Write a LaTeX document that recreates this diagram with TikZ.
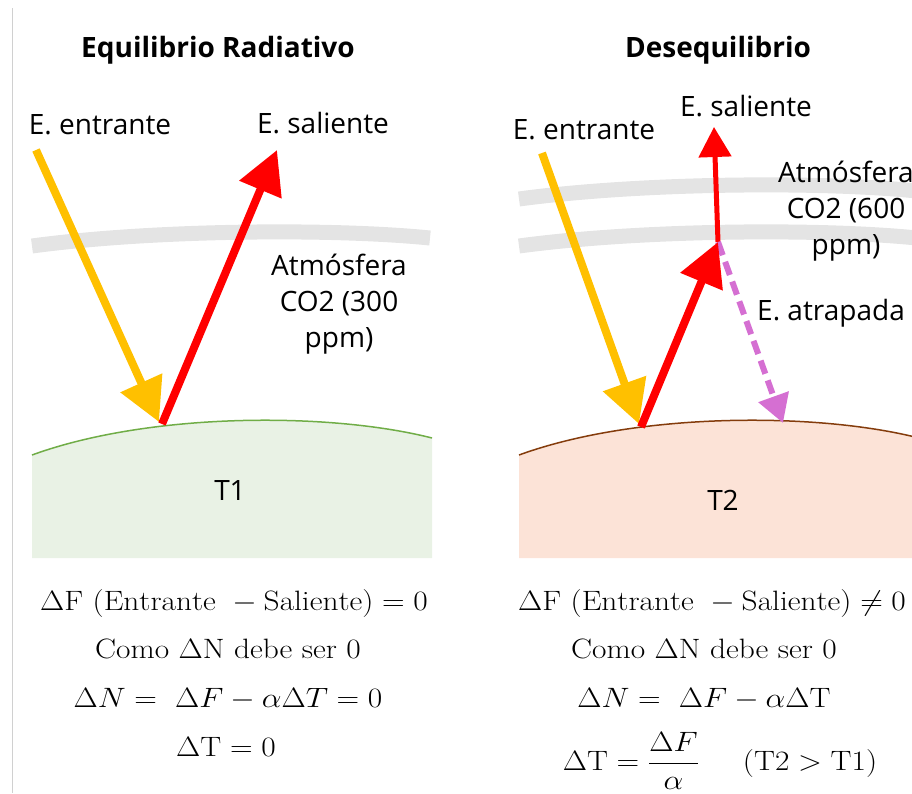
\RequirePackage{fix-cm}
\documentclass[tikz,border=0pt]{standalone}
\usepackage{amsmath}
\usepackage{graphicx}
\usepackage{fontspec}
\newfontfamily\sansf{Open Sans}
\usetikzlibrary{arrows.meta}
\definecolor{yel}{HTML}{FFC000}
\definecolor{redar}{HTML}{FF0000}
\definecolor{mag}{HTML}{D56FD2}
\definecolor{atm}{HTML}{E4E4E4}
\definecolor{grfill}{HTML}{E9F2E5}
\definecolor{grline}{HTML}{70AD47}
\definecolor{rdfill}{HTML}{FCE3D7}
\definecolor{rdline}{HTML}{843C0C}
\definecolor{framegray}{HTML}{D0D0D0}
\newcommand{\wide}[1]{\scalebox{1.12}[1]{#1}}
\begin{document}
\begin{tikzpicture}[x=1pt,y=-1pt,
  lbl/.style={font=\sansf\fontsize{28}{36}\selectfont, inner sep=0pt, align=center},
  ttl/.style={font=\sansf\bfseries\fontsize{28}{34}\selectfont, inner sep=0pt},
  eqn/.style={font=\fontsize{28}{33}\selectfont, inner sep=0pt, anchor=base},
  bigarrow/.style={line width=8pt, -{Triangle[length=43pt,width=44pt]}},
  thinarrow/.style={line width=5pt, -{Triangle[length=30pt,width=32pt]}},
  trapped/.style={line width=6pt, mag, dash pattern=on 14pt off 7pt, -{Triangle[length=28pt,width=31pt]}},
  band/.style={atm, line width=15pt},
]
\useasboundingbox (0,0) rectangle (912,793);
\clip (0,0) rectangle (912,793);

% frame line
\draw[framegray, line width=1pt] (12,8) -- (12,793);

% ---------- left panel ----------
\draw[band] (32,246) .. controls (150,230) and (330,228) .. (430,238);
\fill[grfill] (32,455) .. controls (150,412) and (330,412) .. (432,438) -- (432,558) -- (32,558) -- cycle;
\draw[grline, line width=1.5pt] (32,455) .. controls (150,412) and (330,412) .. (432,438);

\node[ttl] (titleL) at (218,50) {Equilibrio Radiativo};
\node[lbl] (inL) at (100,125) {E. entrante};
\node[lbl] (outL) at (323,123) {E. saliente};
\node[lbl] (atmL) at (339,304) {Atmósfera\\CO2 (300\\ppm)};
\node[lbl] (T1) at (230,490) {T1};

\coordinate (yLs) at (36,150);
\coordinate (yLe) at (159,422);
\coordinate (rLs) at (162,424);
\coordinate (rLe) at (277,150);
\draw[bigarrow, yel] (yLs) -- (yLe);
\draw[bigarrow, redar] (rLs) -- (rLe);

\node[eqn] (eL1) at (234,610) {\wide{$\Delta\mathrm{F}\ (\mathrm{Entrante}\ - \mathrm{Saliente}) = 0$}};
\node[eqn] (eL2) at (228,658) {\wide{Como $\Delta$N debe ser 0}};
\node[eqn] (eL3) at (228,707) {\wide{$\Delta N =\ \Delta F - \alpha\Delta T = 0$}};
\node[eqn] (eL4) at (226,756) {\wide{$\Delta\mathrm{T} = 0$}};

% ---------- right panel ----------
\begin{scope}[shift={(487,0)}]
\draw[band] (32,246) .. controls (150,230) and (330,228) .. (430,238);
\draw[band] (32,199) .. controls (150,183) and (330,181) .. (430,191);
\fill[rdfill] (32,455) .. controls (150,412) and (330,412) .. (432,438) -- (432,558) -- (32,558) -- cycle;
\draw[rdline, line width=1.5pt] (32,455) .. controls (150,412) and (330,412) .. (432,438);
\end{scope}

\node[ttl] (titleR) at (718,50) {Desequilibrio};
\node[lbl] (inR) at (584,130) {E. entrante};
\node[lbl] (outR) at (746,106) {E. saliente};
\node[lbl] (atmR) at (846,211) {Atmósfera\\CO2 (600\\ppm)};
\node[lbl] (T2) at (723,500) {T2};
\node[lbl] (trap) at (831,313) {E. atrapada};

\coordinate (yRs) at (542,153);
\coordinate (yRe) at (639,424);
\coordinate (rRs) at (641,427);
\coordinate (rJ) at (718,242);
\coordinate (rTop) at (714,127);
\coordinate (mE) at (783,423);
\draw[bigarrow, yel] (yRs) -- (yRe);
\draw[thinarrow, redar] (rJ) -- (rTop);
\draw[trapped] (rJ) -- (mE);
\draw[bigarrow, redar] (rRs) -- (rJ);

\node[eqn] (eR1) at (712,610) {\wide{$\Delta\mathrm{F}\ (\mathrm{Entrante}\ - \mathrm{Saliente}) \neq 0$}};
\node[eqn] (eR2) at (704,658) {\wide{Como $\Delta$N debe ser 0}};
\node[eqn] (eR3) at (704,707) {\wide{$\Delta N =\ \Delta F - \alpha\Delta\mathrm{T}$}};
\node[eqn] (eR4) at (720,770) {\wide{$\Delta\mathrm{T} = \dfrac{\Delta F}{\alpha}\hspace{1.4em}(\mathrm{T2} > \mathrm{T1})$}};
\end{tikzpicture}
\end{document}
